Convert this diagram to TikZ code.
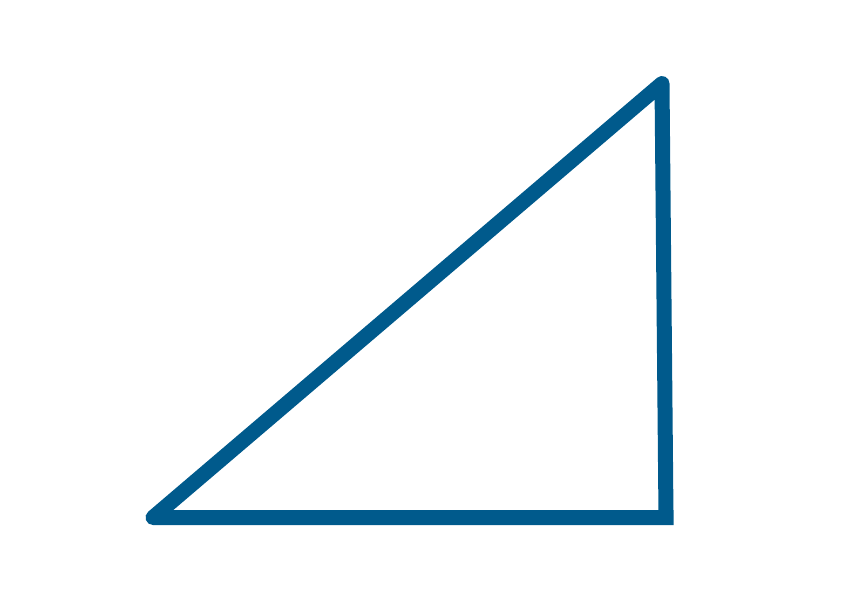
\documentclass[tikz,border=0pt]{standalone}
\definecolor{triblue}{RGB}{0,90,140}
\begin{document}
\begin{tikzpicture}[x=1pt,y=1pt,
  edge/.style={draw=triblue,line width=15pt,line join=round,line cap=rect}]
\useasboundingbox (0,0) rectangle (850,603);
\coordinate (A) at (153,85.5);
\coordinate (B) at (662,519.5);
\coordinate (C) at (666,85.5);
\draw[edge] (C) -- (A) -- (B) -- (C);
\end{tikzpicture}
\end{document}
